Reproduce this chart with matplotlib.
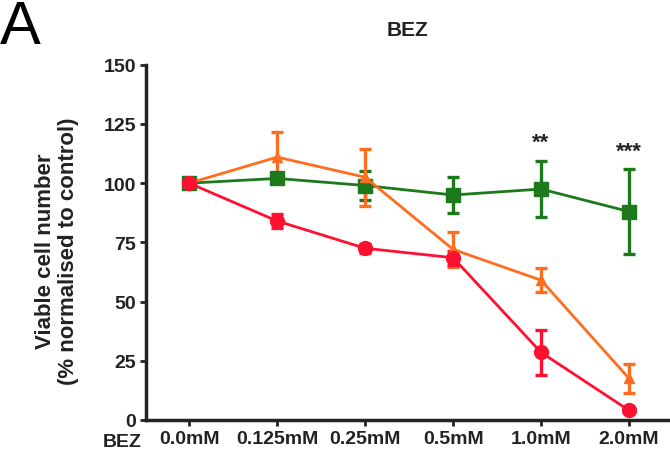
import numpy as np
import matplotlib.pyplot as plt

plt.rcParams['font.family'] = ['Liberation Sans', 'DejaVu Sans']

# ── Data ──────────────────────────────────────────────────────────────────────
doses = ["0.0mM", "0.125mM", "0.25mM", "0.5mM", "1.0mM", "2.0mM"]

green = [100, 102, 99, 95, 97.5, 88]
green_err = [1.5, 2, 6, 7.5, 12, 18]

orange = [100, 111, 102.5, 72, 59, 17.5]
orange_err = [1.5, 10.5, 12, 7.5, 5, 6]

red = [100, 84, 72.5, 68.5, 28.5, 4]
red_err = [1.5, 3, 2, 3, 9.5, 1]

stars = {4: ("**", 117.5), 5: ("***", 113.5)}

# ── Plot ──────────────────────────────────────────────────────────────────────
dark = "#222222"
fig = plt.figure(figsize=(6.7, 4.6), dpi=100)
ax = fig.add_axes([0.218, 0.085, 0.78, 0.772])

x = np.arange(len(doses))
series = [
    (green, green_err, "#1c7a1c", "s", 10),
    (orange, orange_err, "#ff6d1f", "^", 7),
    (red, red_err, "#ff1030", "o", 10),
]
for vals, err, col, mk, ms in series:
    ax.errorbar(x, vals, yerr=err, color=col, marker=mk, markersize=ms,
                linewidth=2, elinewidth=2.4, capsize=4.5, capthick=2.4)

for i, (s, y) in stars.items():
    ax.text(i, y, s, ha="center", va="center", fontsize=16, fontweight="bold",
            color=dark)

ax.set_xlim(-0.49, 5.45)
ax.set_ylim(0, 150)
ax.set_yticks([0, 25, 50, 75, 100, 125, 150])
ax.set_xticks(x)
ax.set_xticklabels(doses)
ax.tick_params(axis="both", direction="out", length=4, width=2,
               labelsize=14, colors=dark, pad=3)
for lab in ax.get_xticklabels() + ax.get_yticklabels():
    lab.set_fontweight("bold")
ax.spines["top"].set_visible(False)
ax.spines["right"].set_visible(False)
for sp in ("left", "bottom"):
    ax.spines[sp].set_linewidth(2.5)
    ax.spines[sp].set_color(dark)

ax.text(-0.76, -5.5, "BEZ", ha="center", va="top", fontsize=14,
        fontweight="bold", color=dark, transform=ax.transData, clip_on=False)

fig.text(57 / 670, 1 - 251 / 460, "Viable cell number\n(% normalised to control)",
         rotation=90, ha="center", va="center", fontsize=16,
         fontweight="bold", color=dark, linespacing=1.15)
fig.text(407 / 670, 1 - 30 / 460, "BEZ", ha="center", va="center",
         fontsize=15, fontweight="bold", color=dark)

fig.text(0.0, 1.0, "A", fontsize=44, ha="left", va="top")

fig.savefig("out.png", dpi=100)
